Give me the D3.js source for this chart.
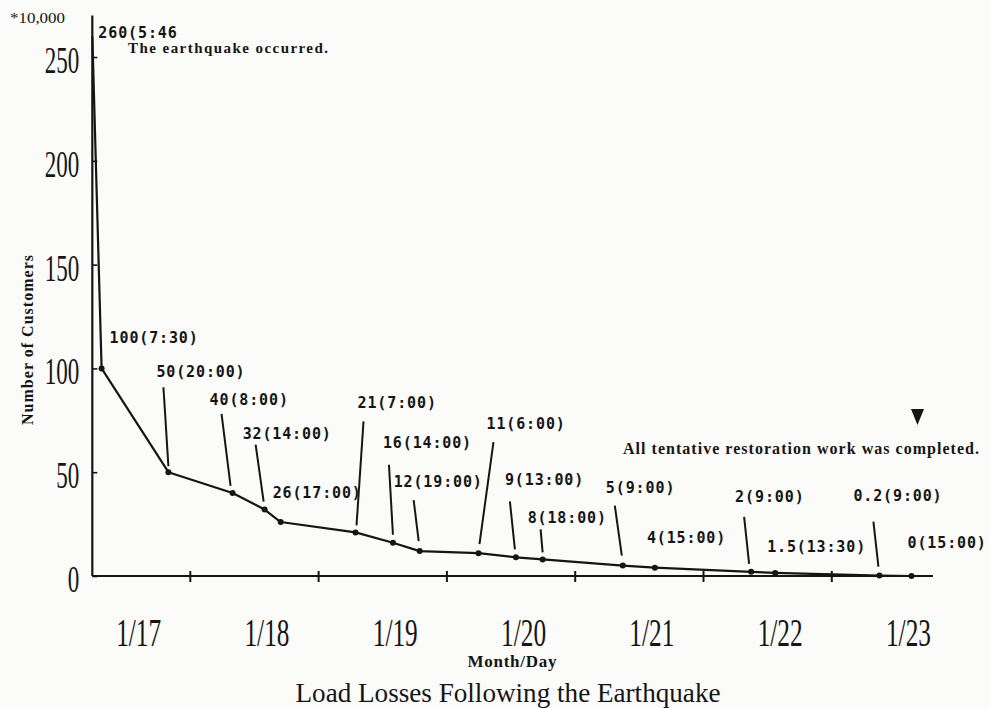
<!DOCTYPE html>
<html>
<head>
<meta charset="utf-8">
<script src="https://cdn.jsdelivr.net/npm/d3@7"></script>
<style>
	body { margin: 0; background: #fbfbf9; }
	svg { display: block; }
	.serif { font-family: "Liberation Serif", "DejaVu Serif", serif; fill: #151515; }
	.mono { font-family: "DejaVu Sans Mono", "Liberation Mono", monospace; font-weight: bold; font-size: 15px; fill: #151515; }
</style>
</head>
<body>
<div id="chart"></div>
<script>
// customers without power (*10,000) after the earthquake
var times = ["1/17 5:46", "1/17 7:30", "1/17 20:00", "1/18 8:00", "1/18 14:00", "1/18 17:00",
	"1/19 7:00", "1/19 14:00", "1/19 19:00", "1/20 6:00", "1/20 13:00", "1/20 18:00",
	"1/21 9:00", "1/21 15:00", "1/22 9:00", "1/22 13:30", "1/23 9:00", "1/23 15:00"];
var customers = [260, 100, 50, 40, 32, 26, 21, 16, 12, 11, 9, 8, 5, 4, 2, 1.5, 0.2, 0];
var pointLabels = ["260(5:46", "100(7:30)", "50(20:00)", "40(8:00)", "32(14:00)", "26(17:00)",
	"21(7:00)", "16(14:00)", "12(19:00)", "11(6:00)", "9(13:00)", "8(18:00)",
	"5(9:00)", "4(15:00)", "2(9:00)", "1.5(13:30)", "0.2(9:00)", "0(15:00)"];
var days = ["1/17", "1/18", "1/19", "1/20", "1/21", "1/22", "1/23"];
var yTicks = [0, 50, 100, 150, 200, 250];

// label placement, pixels relative to each point: [dx, dy]
var labelOffset = [[6, -4], [8, -31], [-12, -101], [-23, -93], [-22, -76], [-8, -29],
	[2, -130], [-10, -100], [-26, -69], [8, -130], [-11, -78], [-15, -42],
	[-17, -78], [-8, -30], [-16, -75], [-8, -26], [-26, -80], [-4, -33]];
// leader lines, pixels relative to the point: [x1, y1, x2, y2]
var leaders = {2: [-5, -85, 0, -6], 3: [-11, -79, -2, -7], 4: [-9, -65, -1, -8], 6: [8, -111, 1, -7],
	7: [-4, -78, 0, -8], 8: [-6, -51, -1, -10], 9: [15, -111, 1, -9], 10: [-6, -56, -1, -8],
	11: [-2, -30, 0, -7], 12: [-8, -60, -1, -10], 14: [-7, -55, -2, -8], 16: [-6, -54, -1, -9]};

function parseTime(s) {
	var p = s.split(/[ \/:]/);
	return new Date(Date.UTC(1995, +p[0] - 1, +p[1], +p[2], +p[3]));
}

var data = times.map(function(t, i) {
	return {t: parseTime(t), v: customers[i], label: pointLabels[i], i: i};
});

var width = 990, height = 708,
		dayWidth = 128.3, left = 61.5, axisEnd = 933;

var x = d3.scaleUtc()
		.domain([parseTime("1/17 0:00"), parseTime("1/24 0:00")])
		.range([left, left + 7 * dayWidth]);
var y = d3.scaleLinear()
		.domain([0, 270])
		.range([576, 15.5]);

var svg = d3.select("#chart").append("svg")
		.attr("width", width)
		.attr("height", height);

var x0 = x(data[0].t);

// x axis: midnight ticks crossing the line
var midnights = days.slice(1).map(function(d) { return parseTime(d + " 0:00"); });
var gx = svg.append("g")
		.attr("transform", "translate(0," + y(0) + ")")
		.call(d3.axisBottom(x).tickValues(midnights).tickSize(6).tickFormat(""));
gx.select(".domain").remove();
gx.selectAll(".tick line").attr("y1", -5).attr("stroke", "#151515").attr("stroke-width", 2);
gx.append("line")
		.attr("x1", x0).attr("x2", axisEnd)
		.attr("stroke", "#151515").attr("stroke-width", 2.2);

// y axis: ticks pointing inward
var gy = svg.append("g")
		.attr("transform", "translate(" + x0 + ",0)")
		.call(d3.axisLeft(y).tickValues(yTicks).tickSize(-5).tickFormat(""));
gy.select(".domain").remove();
gy.selectAll(".tick line").attr("stroke", "#151515").attr("stroke-width", 1.6);
gy.append("line")
		.attr("y1", y(0)).attr("y2", y(270))
		.attr("stroke", "#151515").attr("stroke-width", 2.2);

svg.append("g").selectAll("text")
		.data(yTicks)
	.enter().append("text")
		.attr("class", "serif")
		.attr("x", x0 - 13)
		.attr("y", function(d) { return y(d) + 16; })
		.attr("text-anchor", "end")
		.attr("font-size", 37)
		.attr("textLength", function(d) { return String(d).length * 11.5; })
		.attr("lengthAdjust", "spacingAndGlyphs")
		.text(function(d) { return d; });

svg.append("g").selectAll("text")
		.data(days)
	.enter().append("text")
		.attr("class", "serif")
		.attr("x", function(d) { return x(parseTime(d + " 12:00")) + 13; })
		.attr("y", 646)
		.attr("text-anchor", "middle")
		.attr("font-size", 41)
		.attr("textLength", 45)
		.attr("lengthAdjust", "spacingAndGlyphs")
		.text(function(d) { return d; });

// data line and points
var line = d3.line()
		.x(function(d) { return x(d.t); })
		.y(function(d) { return y(d.v); });

svg.append("path")
		.datum(data)
		.attr("d", line)
		.attr("fill", "none")
		.attr("stroke", "#151515")
		.attr("stroke-width", 2.2)
		.attr("stroke-linejoin", "round");

svg.append("g").selectAll("circle")
		.data(data.slice(1))
	.enter().append("circle")
		.attr("cx", function(d) { return x(d.t); })
		.attr("cy", function(d) { return y(d.v); })
		.attr("r", 3)
		.attr("fill", "#151515");

// leader lines
svg.append("g").selectAll("line")
		.data(data.filter(function(d) { return leaders[d.i]; }))
	.enter().append("line")
		.attr("x1", function(d) { return x(d.t) + leaders[d.i][0]; })
		.attr("y1", function(d) { return y(d.v) + leaders[d.i][1]; })
		.attr("x2", function(d) { return x(d.t) + leaders[d.i][2]; })
		.attr("y2", function(d) { return y(d.v) + leaders[d.i][3]; })
		.attr("stroke", "#151515")
		.attr("stroke-width", 2);

// point labels
svg.append("g").selectAll("text")
		.data(data)
	.enter().append("text")
		.attr("class", "mono")
		.attr("x", function(d) { return x(d.t) + labelOffset[d.i][0]; })
		.attr("y", function(d) { return y(d.v) + labelOffset[d.i][1]; })
		.attr("dy", "0.36em")
		.attr("textLength", function(d) { return d.label.length * 9.8; })
		.text(function(d) { return d.label; });

// annotations
svg.append("text")
		.attr("class", "serif")
		.attr("x", 128).attr("y", 53)
		.attr("font-size", 15).attr("font-weight", "bold")
		.attr("textLength", 200)
		.text("The earthquake occurred.");

var last = data[data.length - 1];
svg.append("path")
		.attr("transform", "translate(" + (x(last.t) + 6) + ",409)")
		.attr("d", "M-6.5,0H6.5L0,16Z")
		.attr("fill", "#151515");

svg.append("text")
		.attr("class", "serif")
		.attr("x", 623).attr("y", 454)
		.attr("font-size", 16).attr("font-weight", "bold")
		.attr("textLength", 356)
		.text("All tentative restoration work was completed.");

svg.append("text")
		.attr("class", "serif")
		.attr("x", 10).attr("y", 23)
		.attr("font-size", 14)
		.attr("textLength", 55)
		.attr("lengthAdjust", "spacingAndGlyphs")
		.text("*10,000");

svg.append("text")
		.attr("class", "serif")
		.attr("transform", "translate(33,340) rotate(-90)")
		.attr("text-anchor", "middle")
		.attr("font-size", 16).attr("font-weight", "bold")
		.attr("textLength", 170)
		.text("Number of Customers");

svg.append("text")
		.attr("class", "serif")
		.attr("x", 512).attr("y", 667)
		.attr("text-anchor", "middle")
		.attr("font-size", 17).attr("font-weight", "bold")
		.attr("textLength", 89)
		.text("Month/Day");

svg.append("text")
		.attr("class", "serif")
		.attr("x", 508).attr("y", 702)
		.attr("text-anchor", "middle")
		.attr("font-size", 27)
		.attr("textLength", 425)
		.attr("lengthAdjust", "spacingAndGlyphs")
		.text("Load Losses Following the Earthquake");
</script>
</body>
</html>
